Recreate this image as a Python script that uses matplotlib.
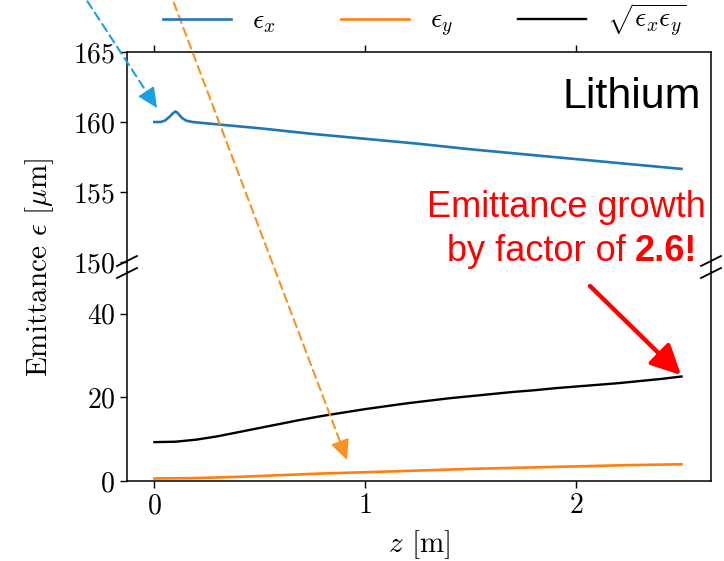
import matplotlib
matplotlib.use("Agg")
import matplotlib.pyplot as plt
from matplotlib.lines import Line2D
from matplotlib.patches import FancyArrowPatch

plt.rcParams['font.family'] = 'serif'
plt.rcParams['font.serif'] = ['cmr10']
plt.rcParams['mathtext.fontset'] = 'cm'
plt.rcParams['axes.formatter.use_mathtext'] = True
plt.rcParams['axes.unicode_minus'] = False

# data
z_x = [0, 0.03, 0.05, 0.07, 0.09, 0.10, 0.11, 0.13, 0.15, 0.18, 0.25, 0.5,
       0.75, 1.0, 1.25, 1.5, 1.75, 2.0, 2.25, 2.5]
eps_x = [160.0, 160.0, 160.1, 160.35, 160.65, 160.75, 160.65, 160.3, 160.1, 160.0,
         159.9, 159.55, 159.15, 158.8, 158.45, 158.05, 157.7, 157.35, 157.0, 156.65]

z_y = [0, 0.2, 0.4, 0.6, 0.8, 1.0, 1.25, 1.5, 1.75, 2.0, 2.25, 2.5]
eps_y = [0.6, 0.7, 1.0, 1.4, 1.8, 2.1, 2.5, 2.9, 3.2, 3.5, 3.8, 4.0]

z_g = [0, 0.1, 0.2, 0.3, 0.4, 0.5, 0.6, 0.7, 0.8, 0.9, 1.0, 1.1, 1.2, 1.3, 1.4,
       1.5, 1.6, 1.7, 1.8, 1.9, 2.0, 2.1, 2.2, 2.3, 2.4, 2.5]
eps_geo = [9.3, 9.4, 9.9, 10.7, 11.7, 12.7, 13.7, 14.7, 15.6, 16.4, 17.2, 17.9,
           18.6, 19.2, 19.8, 20.3, 20.8, 21.3, 21.7, 22.2, 22.6, 23.0, 23.4,
           23.9, 24.4, 25.0]

x_ticks = [0, 1, 2]
top_yticks = [150, 155, 160, 165]
bot_yticks = [0, 20, 40]

W, H = 724, 561


def px(x, y):
    # image pixel (from top-left) -> figure fraction
    return x / W, 1 - y / H


def dashed_arrow(start, tip, color, head_px=18):
    # dashed shaft plus a solid filled head at the tip
    (x0, y0), (x1, y1) = start, tip
    d = ((x1 - x0) ** 2 + (y1 - y0) ** 2) ** 0.5
    hx, hy = x1 - (x1 - x0) * head_px / d, y1 - (y1 - y0) * head_px / d
    fig.add_artist(FancyArrowPatch(px(x0, y0), px(hx + (x1 - x0) * 4 / d, hy + (y1 - y0) * 4 / d),
                                   transform=fig.transFigure, arrowstyle='-',
                                   color=color, lw=1.5, linestyle=(0, (4, 2.5)),
                                   shrinkA=0, shrinkB=0))
    fig.add_artist(FancyArrowPatch(px(hx, hy), px(x1, y1), transform=fig.transFigure,
                                   arrowstyle='-|>,head_length=0.85,head_width=0.4',
                                   mutation_scale=15, color=color, lw=1,
                                   shrinkA=0, shrinkB=0))


fig = plt.figure(figsize=(W / 100, H / 100), dpi=100)
left, right = 127 / W, 711 / W
ax_top = fig.add_axes([left, 1 - 262 / H, right - left, 210 / H])
ax_bot = fig.add_axes([left, 1 - 481 / H, right - left, 209 / H])

fs = 20
for ax in (ax_top, ax_bot):
    ax.plot(z_x, eps_x, color='#1f77b4', lw=1.9, label=r'$\epsilon_x$')
    ax.plot(z_y, eps_y, color='#ff7f0e', lw=1.9, label=r'$\epsilon_y$')
    ax.plot(z_g, eps_geo, color='black', lw=1.7, label=r'$\sqrt{\epsilon_x\epsilon_y}$')
    ax.set_xlim(-0.13, 2.64)
    ax.set_xticks(x_ticks)
    ax.tick_params(labelsize=fs, length=5, width=1)
    for s in ax.spines.values():
        s.set_linewidth(1.1)

ax_top.set_ylim(150, 165)
ax_top.set_yticks(top_yticks)
ax_top.spines['bottom'].set_visible(False)
ax_top.tick_params(axis='x', bottom=False, labelbottom=False, top=True, labeltop=False)

ax_bot.set_ylim(0, 50)
ax_bot.set_yticks(bot_yticks)
ax_bot.spines['top'].set_visible(False)
ax_bot.tick_params(axis='x', top=False)

# spine continuation through the gap + break marks
y_gap_top = ax_top.get_position().y0
y_gap_bot = ax_bot.get_position().y1
for xf in (left, right):
    fig.add_artist(Line2D([xf, xf], [y_gap_bot, y_gap_top], color='black', lw=1.1))
    for yf in (y_gap_top + 1 / H, y_gap_bot - 1 / H):
        fig.add_artist(Line2D([xf - 10 / W, xf + 10 / W], [yf - 5 / H, yf + 5 / H],
                              color='black', lw=1.3))

handles, labels = ax_top.get_legend_handles_labels()
fig.legend(handles, labels, loc='center', bbox_to_anchor=(0.587, 0.963), ncol=3,
           frameon=False, fontsize=fs, handlelength=2.45, handletextpad=0.75,
           columnspacing=2.35, borderpad=0)

fig.text(40 / W, 0.523, r'Emittance $\epsilon$ [$\mu$m]', rotation=90,
         ha='center', va='center', fontsize=fs + 1)
fig.text(*px(419, 545), r'$z$ [m]', ha='center', va='center', fontsize=fs + 1)

sans = ['Liberation Sans', 'DejaVu Sans']
fig.text(*px(701, 108), 'Lithium', ha='right', va='baseline', fontsize=31, family=sans)
fig.text(*px(566, 217), 'Emittance growth', ha='center', va='baseline',
         fontsize=26, color='red', family=sans)
fig.text(*px(626, 261), 'by factor of', ha='right', va='baseline',
         fontsize=26, color='red', family=sans)
fig.text(*px(697, 261), '2.6!', ha='right', va='baseline',
         fontsize=26, color='red', family=sans, weight='bold')

# arrows
red = FancyArrowPatch(px(590, 286), px(681, 375), transform=fig.transFigure,
                      arrowstyle='-|>,head_length=0.6,head_width=0.3',
                      mutation_scale=30, color='red', lw=3.2, shrinkA=0, shrinkB=0)
fig.add_artist(red)
dashed_arrow((80, -10), (157, 108), '#1ba1e2')
dashed_arrow((169, -10), (347, 460), '#f7931e')

fig.savefig('out.png', dpi=100)
